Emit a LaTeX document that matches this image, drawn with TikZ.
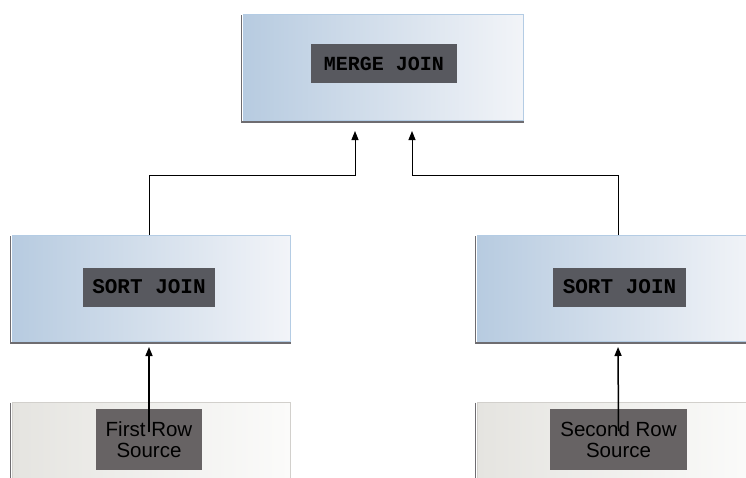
\documentclass[tikz,border=0pt]{standalone}
\usepackage{fontspec}
\usetikzlibrary{arrows.meta}
\newfontfamily\monofam{Liberation Mono}
\newfontfamily\sansfam{Liberation Sans}
\definecolor{blueL}{HTML}{B7CBE0}
\definecolor{blueR}{HTML}{F2F4F8}
\definecolor{blueEdge}{HTML}{B4CCE4}
\definecolor{grayL}{HTML}{E5E4E0}
\definecolor{grayR}{HTML}{FBFBFA}
\definecolor{grayEdge}{HTML}{D2D0CC}
\definecolor{shadowC}{HTML}{6E6C70}
\definecolor{lblTop}{HTML}{58595F}
\definecolor{lblBot}{HTML}{676364}
\begin{document}
\begin{tikzpicture}[x=1pt,y=-1pt,
  bluebox/.style={draw=blueEdge, line width=1pt, left color=blueL, right color=blueR,
    minimum width=#1, minimum height=106pt, inner sep=0pt},
  graybox/.style={draw=grayEdge, line width=1pt, left color=grayL, right color=grayR,
    minimum width=278pt, minimum height=88pt, inner sep=0pt},
  joinlbl/.style={fill=lblTop, text=black, inner sep=0pt, minimum height=39pt,
    font=\monofam\bfseries\fontsize{#1}{20}\selectfont},
  srclbl/.style={fill=lblBot, text=black, inner sep=0pt, minimum height=61pt,
    align=center, font=\sansfam\fontsize{20.5}{20.5}\selectfont},
  shadowline/.style={draw=shadowC, line width=1.4pt},
  conn/.style={draw=black, line width=1pt, -{Triangle[length=9pt,width=7pt]}}]
\clip (0,0) rectangle (746,477);
\fill[white] (0,0) rectangle (746,477);
% boxes
\node[bluebox=280pt] (merge) at (383,67.5) {};
\node[bluebox=278pt] (sortL) at (151,288.5) {};
\node[bluebox=278pt] (sortR) at (616,288.5) {};
\node[graybox] (srcL) at (151,446) {};
\node[graybox] (srcR) at (616,446) {};
% shadows on left and bottom
\foreach \b in {merge,sortL,sortR}{
  \draw[shadowline] ([xshift=-1pt,yshift=-1pt]\b.north west) -- ([xshift=-1pt,yshift=-1pt]\b.south west) -- ([yshift=-1pt]\b.south east);
}
\foreach \b in {srcL,srcR}{
  \draw[shadowline] ([xshift=-1pt,yshift=-1pt]\b.north west) -- ([xshift=-1pt]\b.south west);
}
% labels
\node[joinlbl=20, minimum width=146pt] (mergeLbl) at (384,63.5) {MERGE JOIN};
\node[joinlbl=21, minimum width=132pt] (sortLLbl) at (149,287) {SORT JOIN};
\node[joinlbl=21, minimum width=133pt] (sortRLbl) at (619.5,287) {SORT JOIN};
\node[srclbl, minimum width=106pt] (srcLLbl) at (149,439.5) {First Row\\Source};
\node[srclbl, minimum width=137pt] (srcRLbl) at (618.5,439.5) {Second Row\\Source};
% connectors
\draw[conn, shorten >=10pt] ([xshift=-2pt]sortL.north) -- ++(0pt,60pt) -| ([xshift=-28pt]merge.south);
\draw[conn, shorten >=10pt] ([xshift=2pt]sortR.north) -- ++(0pt,60pt) -| ([xshift=29pt]merge.south);
\draw[conn, line width=1.5pt, shorten >=5pt] ([yshift=7.5pt]srcLLbl.center) -- ([xshift=-2pt]sortL.south);
\draw[conn, line width=1.5pt, shorten >=5pt] ([yshift=8.5pt]srcRLbl.center) -- ([xshift=2pt]sortR.south);
\end{tikzpicture}
\end{document}
